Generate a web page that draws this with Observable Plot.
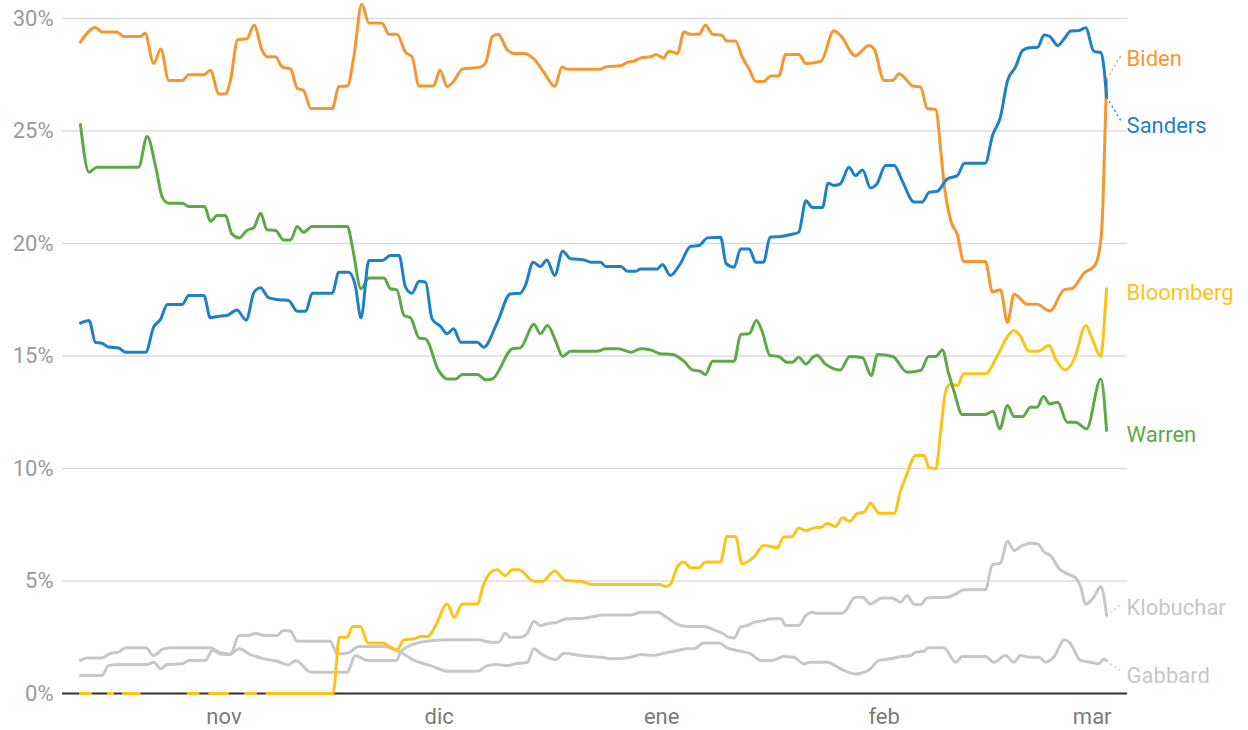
<!DOCTYPE html>
<html><head><meta charset="utf-8">
<script src="https://cdn.jsdelivr.net/npm/d3@7"></script>
<script src="https://cdn.jsdelivr.net/npm/@observablehq/plot@0.6"></script>
<style>body{margin:0;background:#fff;}</style>
</head><body><div id="chart"></div>
<script>
// Day offsets are counted from 12 Oct 2019; values are percentages.
const startDate = "2019-10-12";
const xDomain = ["2019-10-09T12:00:00Z", "2020-03-05T22:00:00Z"];
const yTicks = [0, 5, 10, 15, 20, 25, 30];
const monthTicks = ["2019-11-01", "2019-12-01", "2020-01-01", "2020-02-01", "2020-03-01"];
const monthLabels = ["nov", "dic", "ene", "feb", "mar"];

const biden = [[0,28.95],[2.1,29.6],[3,29.4],[5.1,29.4],[6,29.2],[8.4,29.2],[9,29.35],[10.2,28.0],[11.2,28.65],[12.3,27.25],[14.2,27.25],[15.1,27.5],[17.2,27.5],[18.1,27.7],[19.3,26.65],[20.2,26.65],[20.9,27.25],[21.9,29.05],[23.2,29.1],[24.2,29.7],[25.3,28.6],[26,28.3],[27.2,28.3],[28.1,27.85],[29.3,27.75],[30.2,26.9],[31.1,26.8],[32.1,26.0],[35.1,26.0],[36,26.98],[37.2,27.0],[38.1,28.3],[39.2,30.65],[40.2,29.8],[42,29.8],[43,29.3],[44.1,29.3],[45.3,28.5],[46.2,28.3],[47.2,27.0],[49.2,27.0],[50.1,27.7],[51.1,26.98],[52,27.2],[53.2,27.75],[55.8,27.85],[56.5,28.05],[57.4,29.2],[58.2,29.3],[59.5,28.6],[60.4,28.45],[61.8,28.45],[63.2,28.2],[64.6,27.6],[66.1,26.98],[67.1,27.85],[67.8,27.75],[72.5,27.75],[73.2,27.85],[75.3,27.9],[76.2,28.05],[77.1,28.1],[78.1,28.25],[79.5,28.3],[80.2,28.4],[81.3,28.25],[82,28.55],[83.2,28.45],[84.1,29.4],[85,29.3],[86.2,29.3],[87.1,29.7],[88.1,29.3],[89.4,29.25],[90.1,29.0],[91.3,29.0],[92.2,28.3],[93.2,27.75],[94.1,27.2],[95.2,27.2],[96.2,27.45],[97.3,27.45],[98.3,28.4],[100.1,28.4],[101.1,28.0],[103.2,28.1],[105,29.45],[105.9,29.25],[108,28.35],[109.9,28.8],[110.6,28.65],[112,27.25],[113.2,27.25],[114.1,27.55],[116,27.0],[117.1,26.95],[118,26.0],[119.2,25.95],[119.9,24.1],[120.3,22.8],[121.3,21.0],[122.2,20.4],[123.1,19.2],[126.1,19.2],[127.1,17.85],[128.2,17.95],[129.2,16.5],[130.1,17.75],[132,17.3],[133.3,17.3],[135.1,17.0],[137.1,17.95],[138.2,18.0],[139.9,18.7],[141.3,19.0],[142,19.7],[142.4,21.0],[142.7,24.0],[143,27.3]];

const sanders = [[0,16.46],[1.2,16.58],[2.1,15.6],[3,15.57],[3.9,15.4],[5.3,15.36],[6.3,15.17],[9.1,15.17],[10.2,16.28],[11.2,16.65],[12.1,17.29],[14.2,17.29],[15.1,17.69],[17.2,17.69],[18.1,16.7],[19.1,16.76],[20.4,16.8],[21.8,17.05],[23.1,16.6],[24.2,17.84],[25.1,18.03],[26.2,17.59],[27.6,17.5],[29,17.47],[30.2,16.99],[31.4,16.99],[32.3,17.79],[35.1,17.79],[36,18.72],[37.4,18.72],[38.3,18.13],[39.1,16.7],[40.2,19.24],[42,19.24],[43.2,19.47],[44.4,19.47],[45.3,18.06],[46.2,17.79],[47.2,18.32],[48.1,18.28],[49,16.65],[50.2,16.31],[51.1,15.99],[52,16.21],[53,15.61],[55.3,15.61],[56.2,15.39],[58.1,16.5],[59.9,17.76],[61.3,17.79],[62,18.13],[63.1,19.17],[64.1,18.98],[65,19.27],[66.1,18.58],[67.2,19.66],[68.3,19.32],[70.2,19.27],[71.1,19.17],[72.5,19.17],[73.2,18.98],[75.3,18.98],[76.2,18.77],[77.4,18.77],[78.1,18.87],[80.4,18.87],[81.1,19.07],[82.2,18.58],[83.6,19.1],[85,19.87],[86.2,19.91],[87.4,20.25],[89.2,20.28],[90,19.1],[91.1,18.95],[92,19.76],[93.2,19.76],[94.1,19.17],[95.2,19.17],[96.1,20.28],[97.6,20.31],[99,20.4],[100.1,20.5],[101.1,21.9],[102,21.6],[103.4,21.6],[104.2,22.68],[105,22.58],[105.9,22.65],[107.1,23.39],[108,23.02],[109,23.27],[110.1,22.47],[111,22.65],[112.2,23.47],[113.4,23.47],[114.5,22.8],[116.2,21.84],[117.3,21.84],[118.3,22.28],[119.4,22.32],[120.8,22.87],[122.2,23.02],[123.2,23.57],[126.1,23.57],[127.1,24.8],[128.2,25.61],[129.2,27.24],[130.3,27.84],[131.3,28.58],[132.2,28.7],[133.4,28.72],[134.3,29.27],[135.1,29.2],[136.2,28.8],[137.1,29.1],[138,29.44],[139.2,29.47],[140.1,29.59],[141.2,28.55],[142.2,28.48],[142.6,27.9],[143,26.5]];

const bloomberg = [[0,0],[1.4,0],[1.5,NaN],[3.9,0],[4.5,0],[4.6,NaN],[6,0],[8.2,0],[8.3,NaN],[15,0],[16.4,0],[16.5,NaN],[18,0],[20.5,0],[20.6,NaN],[23,0],[24.4,0],[24.5,NaN],[26,0],[35.2,0],[36.1,2.5],[37.2,2.5],[37.9,2.98],[39,2.98],[40.1,2.24],[42.2,2.24],[43.2,2.06],[44.1,1.94],[45.1,2.39],[46.5,2.43],[47.4,2.53],[48.4,2.53],[49.5,3.02],[51.1,3.98],[52.1,3.39],[53.2,3.98],[55.3,3.98],[56.2,4.87],[57.4,5.44],[58.1,5.5],[59.2,5.24],[60.2,5.5],[61.1,5.5],[63.2,4.99],[64.4,4.99],[66.1,5.44],[67.6,5.02],[69.7,4.99],[71.3,4.84],[80.8,4.84],[81.5,4.76],[82.2,4.84],[83.2,5.64],[84.1,5.84],[85,5.59],[86.2,5.59],[87.1,5.84],[89.2,5.84],[90.1,6.98],[91.3,6.98],[92.2,5.76],[93.9,6.09],[95.2,6.58],[97.1,6.48],[98,6.96],[99.2,6.98],[100.1,7.36],[101.1,7.24],[102.2,7.36],[103.2,7.39],[104.1,7.56],[105.2,7.42],[106.2,7.81],[107.2,7.66],[108.3,8.01],[109.2,8.06],[110.1,8.46],[111.3,8.01],[113.4,8.01],[114.3,9.02],[115,9.6],[116.4,10.58],[117.6,10.58],[118.2,10.06],[119.2,9.99],[119.9,11.69],[120.6,13.47],[121.3,13.76],[122.2,13.69],[123.1,14.21],[126.1,14.21],[127.8,15.02],[129.2,15.87],[130.1,16.13],[131,15.87],[132.2,15.21],[133.4,15.21],[135,15.47],[135.9,14.87],[137.3,14.38],[138.5,14.87],[140.1,16.36],[141,15.76],[142.2,14.98],[142.6,16.13],[143,17.99]];

const warren = [[0,25.29],[1.2,23.17],[2.3,23.39],[8.1,23.39],[9.3,24.76],[10.5,23.39],[11.4,22.06],[12.3,21.79],[14.2,21.79],[15.1,21.64],[17.3,21.64],[18.1,20.99],[19.1,21.24],[20.2,21.24],[21.1,20.43],[22.1,20.25],[23.2,20.58],[24.2,20.72],[25.1,21.35],[26,20.61],[27.2,20.58],[28.3,20.16],[29.3,20.16],[30.2,20.76],[31.1,20.5],[32.3,20.76],[37.2,20.76],[37.9,19.84],[39.1,17.99],[40.2,18.47],[42.3,18.47],[43.2,17.99],[44.1,17.94],[45.1,16.8],[46,16.7],[47.2,15.8],[48.1,15.76],[49.9,14.36],[51.1,13.98],[52.3,13.98],[53.2,14.18],[55.3,14.18],[56.5,13.94],[57.4,13.98],[60.2,15.32],[61.3,15.36],[63.2,16.4],[64.1,15.99],[65.1,16.36],[66.2,15.69],[67.2,14.98],[68.3,15.21],[72,15.21],[73.2,15.32],[75,15.32],[76.7,15.17],[78.1,15.32],[79.5,15.27],[80.8,15.1],[82.5,15.07],[84.1,14.77],[85.3,14.38],[86.4,14.32],[87.1,14.18],[88.1,14.77],[91.1,14.77],[92,15.96],[93.2,15.99],[94.2,16.58],[95,16.1],[96.1,15.02],[97.3,14.98],[98.5,14.72],[99.2,14.72],[100.1,14.95],[101.1,14.65],[102.2,14.98],[102.7,15.02],[103.8,14.65],[105.9,14.38],[107.2,14.98],[109,14.92],[110.2,14.13],[111.1,15.07],[113.2,14.98],[115.2,14.28],[117.1,14.36],[118.2,14.98],[119.2,14.98],[120.1,15.27],[121,14.21],[121.7,13.47],[122.9,12.4],[126.1,12.4],[127.2,12.55],[128.1,11.76],[129.2,12.8],[130.1,12.31],[131.3,12.31],[132.4,12.72],[133.3,12.72],[134.2,13.2],[135.1,12.87],[136.2,12.95],[137.5,12.06],[138.7,12.06],[140.2,11.76],[142.2,13.98],[143,11.69]];

const klobuchar = [[0,1.47],[0.9,1.58],[3,1.58],[4.2,1.79],[5.3,1.84],[6.3,2.03],[9.1,2.03],[10.2,1.69],[11.6,1.99],[13,2.03],[18.1,2.03],[19.3,1.84],[20.9,1.76],[22.1,1.99],[23.7,1.73],[25.6,1.54],[27.4,1.43],[29,1.27],[30,1.47],[32.1,0.95],[37.2,0.95],[38.3,1.69],[40,1.47],[44.1,1.47],[44.6,1.84],[46.5,2.2],[49.2,2.36],[51.1,2.39],[55.5,2.39],[57.1,2.28],[58.3,2.28],[59.2,2.68],[59.9,2.5],[61.3,2.5],[62.3,2.68],[63.2,3.21],[64.1,3.02],[65.1,3.1],[66.4,3.17],[67.8,3.32],[70.2,3.35],[71.5,3.42],[72.9,3.49],[76.7,3.49],[78.1,3.61],[80.4,3.61],[81.8,3.36],[83.2,3.07],[84.6,2.98],[86.9,2.98],[88.3,2.83],[89.4,2.68],[90.4,2.5],[91.1,2.47],[92,2.95],[92.9,3.02],[93.9,3.17],[95.2,3.24],[96.2,3.32],[97.6,3.32],[98.3,3.02],[100.1,3.02],[101.1,3.47],[102,3.61],[102.5,3.57],[106.2,3.57],[108,4.28],[109,4.28],[110.1,3.98],[111.7,4.25],[113.1,4.25],[114.3,4.06],[115.2,4.36],[116.2,3.96],[117.1,3.96],[118,4.25],[120.8,4.28],[122,4.43],[123.1,4.61],[126.1,4.61],[127.1,5.73],[128.2,5.79],[129.2,6.77],[130.1,6.36],[131.3,6.58],[132.4,6.68],[133.4,6.65],[134.3,6.28],[135.2,6.13],[136.4,5.54],[137.3,5.35],[138.7,5.14],[139.4,4.72],[140.1,3.96],[141.2,4.28],[142.2,4.76],[142.6,4.36],[143,3.47]];

const gabbard = [[0,0.8],[3,0.8],[3.9,1.24],[5.3,1.29],[9.3,1.29],[10.2,1.39],[11.2,1.1],[12.1,1.29],[14.2,1.32],[15.1,1.47],[17.4,1.47],[18.4,1.91],[19.5,1.76],[20.9,1.73],[22.1,2.58],[23.5,2.58],[24.4,2.68],[25.6,2.58],[27.4,2.58],[28.3,2.8],[29.3,2.77],[30.2,2.32],[34.8,2.32],[35.8,1.76],[37.2,1.79],[38.8,2.09],[42.3,2.09],[43.4,1.99],[44.6,1.84],[46.5,1.47],[48.8,1.24],[51.1,0.99],[55.3,0.99],[56.7,1.24],[58.1,1.29],[59.5,1.24],[60.6,1.32],[62.3,1.39],[63.2,1.99],[64.1,1.79],[65.1,1.61],[66.2,1.5],[67.4,1.79],[69.7,1.69],[72.5,1.61],[74.3,1.54],[76.7,1.61],[78.1,1.73],[79.9,1.69],[81.3,1.79],[83.2,1.91],[84.6,1.99],[85.5,1.99],[86.9,2.24],[89,2.24],[90.1,2.03],[91.5,1.91],[93.4,1.76],[94.8,1.47],[96.4,1.47],[98,1.64],[99.4,1.61],[100.8,1.32],[101.8,1.39],[104.1,1.39],[105.9,1.1],[108,0.87],[109.9,1.05],[111.3,1.47],[112.9,1.54],[114.3,1.64],[115.7,1.69],[116.4,1.84],[117.5,1.88],[118.2,2.03],[120.3,2.03],[122,1.39],[122.9,1.64],[126.1,1.64],[127.3,1.39],[128.9,1.69],[130.1,1.39],[131,1.69],[132.4,1.61],[133.6,1.61],[134.5,1.39],[135.7,1.64],[137.1,2.39],[137.8,2.28],[139.4,1.47],[140.8,1.39],[141.9,1.32],[142.6,1.52],[143,1.47]];

const candidates = ["Klobuchar", "Gabbard", "Bloomberg", "Warren", "Biden", "Sanders"];
const seriesPoints = [klobuchar, gabbard, bloomberg, warren, biden, sanders];
const colors = ["#c7c7c7", "#c7c7c7", "#fcc419", "#5ca946", "#f7962f", "#1f80c8"];

const DAY = 864e5;
const t0 = Date.parse(startDate + "T00:00:00Z");
const toDate = d => new Date(t0 + d * DAY);

const rows = [];
candidates.forEach((name, i) => {
  seriesPoints[i].forEach(([d, v]) => rows.push({name, date: toDate(d), value: v, color: colors[i]}));
});

// End labels, dodged so they do not overlap
const ends = candidates.map((name, i) => {
  const pts = seriesPoints[i];
  const [d, v] = pts[pts.length - 1];
  return {name, color: colors[i], date: toDate(d), end: v, pos: v};
}).sort((a, b) => b.end - a.end);
const gap = 3.0;
for (let k = 0; k < 30; k++) {
  for (let i = 1; i < ends.length; i++) {
    const a = ends[i - 1], b = ends[i];
    if (a.pos - b.pos < gap) {
      const mid = (a.pos + b.pos) / 2;
      a.pos = mid + gap / 2;
      b.pos = mid - gap / 2;
    }
  }
}
const connectors = ends.filter(e => Math.abs(e.pos - e.end) > 0.3);

const chart = Plot.plot({
  width: 1248,
  height: 730,
  marginLeft: 62,
  marginRight: 121,
  marginTop: 18,
  marginBottom: 37,
  style: {fontFamily: "Roboto, sans-serif", background: "#fff"},
  x: {type: "utc", domain: xDomain.map(s => new Date(s))},
  y: {domain: [0, 30]},
  marks: [
    Plot.ruleY(yTicks.filter(d => d > 0), {stroke: "#dcdcdc", strokeWidth: 1.3}),
    Plot.ruleY([0], {stroke: "#333", strokeWidth: 2}),
    Plot.axisY({ticks: yTicks, tickSize: 0, tickPadding: 9, tickFormat: d => `${d}%`, fontSize: 22, color: "#9a9a9a", label: null}),
    Plot.axisX({ticks: monthTicks.map(s => new Date(s + "T00:00:00Z")), tickSize: 0, tickPadding: 15,
      tickFormat: d => monthLabels[monthTicks.findIndex(s => Date.parse(s + "T00:00:00Z") === +d)],
      fontSize: 22, color: "#7a7a7a", label: null}),
    ...candidates.map((name, i) => Plot.line(rows.filter(r => r.name === name), {
      x: "date", y: "value", stroke: colors[i], strokeWidth: 3, curve: "monotone-x"
    })),
    Plot.link(connectors, {
      x1: "date", y1: "end", x2: d => new Date(+d.date + 2.1 * DAY), y2: "pos",
      stroke: "color", strokeWidth: 1.3, strokeDasharray: "2,3"
    }),
    Plot.text(ends, {x: "date", y: "pos", text: "name", fill: "color", dx: 20, dy: 4,
      textAnchor: "start", fontSize: 22})
  ]
});
document.getElementById("chart").appendChild(chart);
</script></body></html>
